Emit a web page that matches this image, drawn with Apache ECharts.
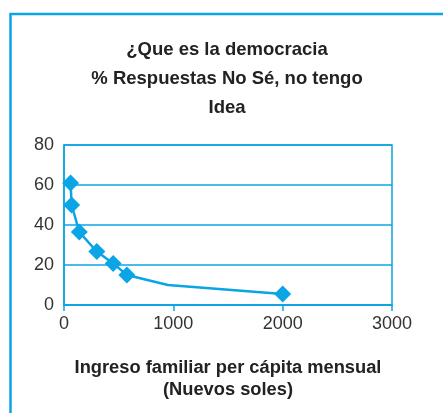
<!DOCTYPE html>
<html>
<head>
<meta charset="utf-8">
<script src="https://cdn.jsdelivr.net/npm/echarts@6/dist/echarts.min.js"></script>
<style>
  html, body { margin: 0; padding: 0; background: #ffffff; }
  #chart { width: 443px; height: 413px; }
</style>
</head>
<body>
<div id="chart"></div>
<script>
// Ingreso familiar per cápita (nuevos soles) y % de respuestas "No sé"
const ingreso = [60, 70, 140, 300, 450, 575, 950, 2000];
const porcentajeNoSe = [61, 50, 36.5, 26.7, 20.8, 15, 10, 5.5];
// the 950 point is a bend of the line only, drawn without a marker
const conMarcador = [true, true, true, true, true, true, false, true];

const xTicks = { min: 0, max: 3000, step: 1000 };
const yTicks = { min: 0, max: 80, step: 20 };

const titulo = '¿Que es la democracia\n% Respuestas No Sé, no tengo\nIdea';
const nombreEjeX = 'Ingreso familiar per cápita mensual\n(Nuevos soles)';

const AZUL = '#0ba4e4';
const FUENTE = '"Liberation Sans", Arial, Helvetica, sans-serif';

const puntos = ingreso.map((x, i) => ({
  value: [x, porcentajeNoSe[i]],
  symbol: conMarcador[i] ? 'diamond' : 'none'
}));

const chart = echarts.init(document.getElementById('chart'), null, { renderer: 'canvas' });
chart.setOption({
  animation: false,
  backgroundColor: '#ffffff',
  graphic: [{
    type: 'rect',
    shape: { x: 10.5, y: 14, width: 600, height: 600 },
    style: { fill: 'none', stroke: AZUL, lineWidth: 2.5 },
    silent: true
  }],
  title: {
    text: titulo,
    left: 227,
    textAlign: 'center',
    top: 35,
    padding: 0,
    textStyle: {
      fontFamily: FUENTE,
      fontSize: 18.5,
      fontWeight: 'bold',
      color: '#222222',
      lineHeight: 29
    }
  },
  grid: {
    left: 64,
    right: 51,
    top: 145,
    bottom: 108,
    show: true,
    borderColor: AZUL,
    borderWidth: 1.5,
    backgroundColor: 'transparent'
  },
  xAxis: {
    type: 'value',
    min: xTicks.min,
    max: xTicks.max,
    interval: xTicks.step,
    name: nombreEjeX,
    nameLocation: 'middle',
    nameGap: 52,
    nameTextStyle: {
      fontFamily: FUENTE,
      fontSize: 18.3,
      fontWeight: 'bold',
      color: '#222222',
      lineHeight: 22
    },
    axisLine: { show: true, lineStyle: { color: AZUL, width: 1.5 } },
    axisTick: { show: true, length: 6, lineStyle: { color: AZUL, width: 1.5 } },
    splitLine: { show: false },
    axisLabel: {
      fontFamily: FUENTE,
      fontSize: 18,
      color: '#333333',
      margin: 10,
      formatter: (v) => String(v)
    }
  },
  yAxis: {
    type: 'value',
    min: yTicks.min,
    max: yTicks.max,
    interval: yTicks.step,
    axisLine: { show: true, lineStyle: { color: AZUL, width: 1.5 } },
    axisTick: { show: false },
    splitLine: { show: true, lineStyle: { color: AZUL, width: 1.5 } },
    axisLabel: {
      fontFamily: FUENTE,
      fontSize: 18,
      color: '#333333',
      margin: 10
    }
  },
  series: [{
    type: 'line',
    data: puntos,
    symbolSize: 17,
    showAllSymbol: true,
    lineStyle: { color: AZUL, width: 2.5 },
    itemStyle: { color: AZUL }
  }]
});
</script>
</body>
</html>
